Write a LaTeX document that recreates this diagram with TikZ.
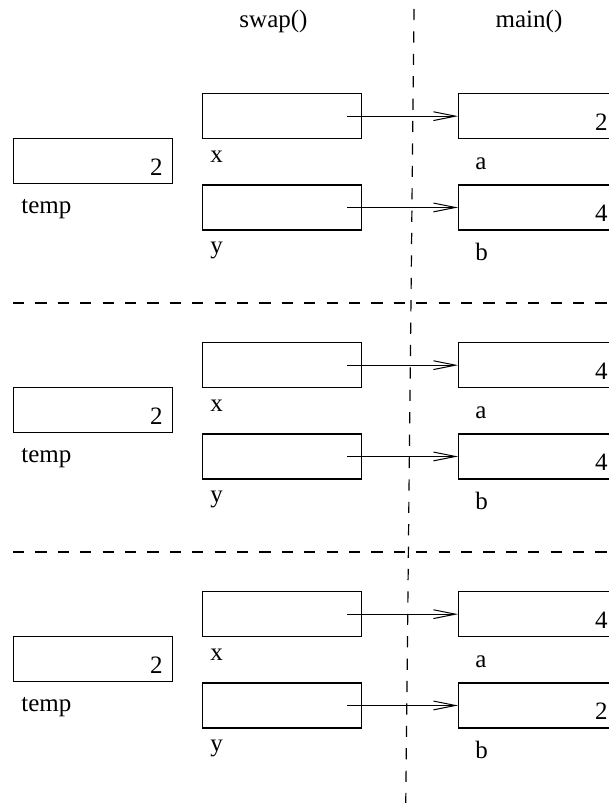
\documentclass[tikz,border=0pt]{standalone}
\usepackage{fontspec}
\setmainfont{Liberation Serif}
\usetikzlibrary{arrows.meta,positioning}
\tikzset{
  cell/.style={draw, line width=0.65pt, minimum width=79.5pt, minimum height=22.5pt, inner xsep=5pt, inner ysep=0pt,
    text width=69.5pt, align=right, text height=14.5pt, text depth=0pt},
  ptr/.style={-{Straight Barb[length=11pt, width=4.4pt]}, line width=0.5pt},
}

\begin{document}
\begin{tikzpicture}[x=0.5pt, y=-0.5pt, font=\fontsize{12.5}{15}\selectfont,
  lab/.style={anchor=base west, inner sep=0pt},
  head/.style={anchor=base, inner sep=0pt},
  divider/.style={dash pattern=on 5.6pt off 5.6pt, line width=0.6pt}]
  \useasboundingbox (0,0) rectangle (609,803);
  \clip (0,0) rectangle (609,803);
  \node[head] (swp) at (273.5,27) {swap()};
  \node[head] (mn) at (529,27) {main()};
  \node[cell, anchor=north west] (x1) at (202,93) {};
  \node[cell, below=22.5pt of x1] (y1) {};
  \node[cell, anchor=north west] (t1) at (13,138) {2};
  \node[cell, anchor=north west] (a1) at (458,93) {2};
  \node[cell, below=22.5pt of a1] (b1) {4};
  \node[lab] (xl1) at ([xshift=4pt,yshift=-11.5pt]x1.south west) {x};
  \node[lab] (yl1) at ([xshift=4pt,yshift=-11.5pt]y1.south west) {y};
  \node[lab] (tl1) at ([xshift=4pt,yshift=-14.5pt]t1.south west) {temp};
  \node[lab] (al1) at ([xshift=8.5pt,yshift=-15pt]a1.south west) {a};
  \node[lab] (bl1) at ([xshift=8.5pt,yshift=-15pt]b1.south west) {b};
  \draw[ptr] ([xshift=-7.5pt]x1.east) -- (a1.west);
  \draw[ptr] ([xshift=-7.5pt]y1.east) -- (b1.west);
  \node[cell, anchor=north west] (x2) at (202,342) {};
  \node[cell, below=22.5pt of x2] (y2) {};
  \node[cell, anchor=north west] (t2) at (13,387) {2};
  \node[cell, anchor=north west] (a2) at (458,342) {4};
  \node[cell, below=22.5pt of a2] (b2) {4};
  \node[lab] (xl2) at ([xshift=4pt,yshift=-11.5pt]x2.south west) {x};
  \node[lab] (yl2) at ([xshift=4pt,yshift=-11.5pt]y2.south west) {y};
  \node[lab] (tl2) at ([xshift=4pt,yshift=-14.5pt]t2.south west) {temp};
  \node[lab] (al2) at ([xshift=8.5pt,yshift=-15pt]a2.south west) {a};
  \node[lab] (bl2) at ([xshift=8.5pt,yshift=-15pt]b2.south west) {b};
  \draw[ptr] ([xshift=-7.5pt]x2.east) -- (a2.west);
  \draw[ptr] ([xshift=-7.5pt]y2.east) -- (b2.west);
  \node[cell, anchor=north west] (x3) at (202,591) {};
  \node[cell, below=22.5pt of x3] (y3) {};
  \node[cell, anchor=north west] (t3) at (13,636) {2};
  \node[cell, anchor=north west] (a3) at (458,591) {4};
  \node[cell, below=22.5pt of a3] (b3) {2};
  \node[lab] (xl3) at ([xshift=4pt,yshift=-11.5pt]x3.south west) {x};
  \node[lab] (yl3) at ([xshift=4pt,yshift=-11.5pt]y3.south west) {y};
  \node[lab] (tl3) at ([xshift=4pt,yshift=-14.5pt]t3.south west) {temp};
  \node[lab] (al3) at ([xshift=8.5pt,yshift=-15pt]a3.south west) {a};
  \node[lab] (bl3) at ([xshift=8.5pt,yshift=-15pt]b3.south west) {b};
  \draw[ptr] ([xshift=-7.5pt]x3.east) -- (a3.west);
  \draw[ptr] ([xshift=-7.5pt]y3.east) -- (b3.west);
  \coordinate (vtop) at (414,9);
  \coordinate (vbot) at (405.6,820);
  \draw[divider] (vtop) -- (vbot);
  \draw[divider] (13,303) -- (620,303);
  \draw[divider] (13,552) -- (620,552);
\end{tikzpicture}
\end{document}
